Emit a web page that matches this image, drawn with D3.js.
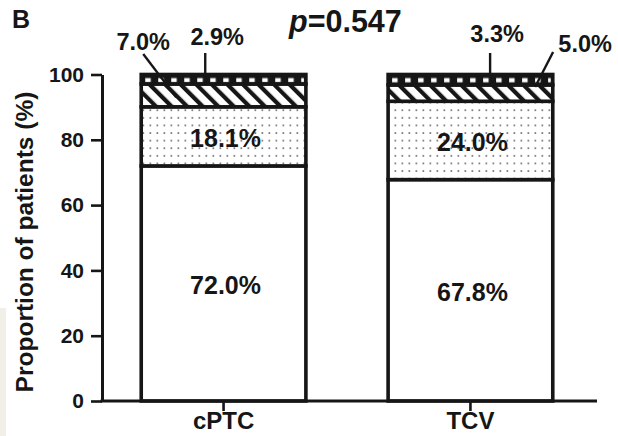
<!DOCTYPE html>
<html><head><meta charset="utf-8">
<script src="https://cdn.jsdelivr.net/npm/d3@7"></script>
<style>
html,body{margin:0;padding:0;background:#fff;}
svg{display:block;font-family:"Liberation Sans",Arial,Helvetica,sans-serif;font-weight:bold;}
</style></head>
<body>
<svg id="chart" width="618" height="436"></svg>
<script>
// ---- data ----
const categories = ["cPTC", "TCV"];
const segmentNames = ["none", "dotted", "hatched", "checkered"];
const cPTCValues = [72.0, 18.1, 7.0, 2.9];
const TCVValues = [67.8, 24.0, 5.0, 3.3];
const segmentLabels = {cPTC: ["72.0%", "18.1%", "7.0%", "2.9%"], TCV: ["67.8%", "24.0%", "5.0%", "3.3%"]};
const yTicks = [0, 20, 40, 60, 80, 100];
const pValueText = "0.547";
const yTitle = "Proportion of patients (%)";
const panelLetter = "B";

const seriesValues = {cPTC: cPTCValues, TCV: TCVValues};

const svg = d3.select("#chart");
const ink = "#161616";

const x = d3.scaleBand().domain(categories).range([100, 594]).paddingInner(0.333).paddingOuter(0.167);
const y = d3.scaleLinear().domain([0, 100]).range([401, 74.5]);

// faint scan artifact on the left
svg.append("rect").attr("x", 0).attr("y", 308).attr("width", 6).attr("height", 128).attr("fill", "#f2efe9");

// ---- patterns ----
const defs = svg.append("defs");
const dots = defs.append("pattern").attr("id", "dots").attr("patternUnits", "userSpaceOnUse")
  .attr("width", 7).attr("height", 7.6).attr("x", 0).attr("y", 0);
dots.append("rect").attr("width", 7).attr("height", 7.6).attr("fill", "#fff");
dots.append("rect").attr("x", 2.5).attr("y", 3).attr("width", 1.7).attr("height", 1.7).attr("fill", "#777");

const hatch = defs.append("pattern").attr("id", "hatch").attr("patternUnits", "userSpaceOnUse")
  .attr("width", 11).attr("height", 11).attr("patternTransform", "rotate(-45)");
hatch.append("rect").attr("width", 11).attr("height", 11).attr("fill", "#fff");
hatch.append("rect").attr("x", 0).attr("y", 0).attr("width", 4.2).attr("height", 11).attr("fill", ink);

const fills = {none: "#fff", dotted: "url(#dots)", hatched: "url(#hatch)"};

// ---- bars ----
categories.forEach(cat => {
  const vals = seriesValues[cat];
  let cum = 0;
  const segs = vals.map((v, i) => { const s = {cat, name: segmentNames[i], y0: cum, y1: cum + v, v, label: segmentLabels[cat][i]}; cum += v; return s; });
  const g = svg.append("g");
  const bx = x(cat), bw = x.bandwidth();
  segs.forEach(s => {
    const top = y(Math.min(s.y1, 100)), bot = y(s.y0);
    if (s.name === "checkered") {
      g.append("rect").attr("x", bx).attr("y", top).attr("width", bw).attr("height", bot - top).attr("fill", ink);
      const pid = "chk" + cat;
      const p = defs.append("pattern").attr("id", pid).attr("patternUnits", "userSpaceOnUse")
        .attr("width", 13).attr("height", 200).attr("x", bx + 4).attr("y", top);
      p.append("rect").attr("x", 0).attr("y", 3.6).attr("width", 5.5).attr("height", 4.2).attr("fill", "#fff");
      g.append("rect").attr("x", bx + 2).attr("y", top).attr("width", bw - 4).attr("height", bot - top).attr("fill", "url(#" + pid + ")");
      g.append("rect").attr("x", bx).attr("y", top).attr("width", bw).attr("height", bot - top)
        .attr("fill", "none").attr("stroke", ink).attr("stroke-width", 3.6);
    } else {
      g.append("rect").attr("x", bx).attr("y", top).attr("width", bw).attr("height", bot - top)
        .attr("fill", fills[s.name]).attr("stroke", ink).attr("stroke-width", 3.6);
    }
  });
  // inner labels
  segs.slice(0, 2).forEach(s => {
    g.append("text").attr("x", bx + bw / 2 + 2).attr("y", (y(s.y0) + y(s.y1)) / 2 + 11)
      .attr("text-anchor", "middle").attr("font-size", 25).attr("fill", ink).text(s.label);
  });
});

// ---- annotations (outer labels with leader lines) ----
function lead(x1, y1, x2, y2) {
  svg.append("line").attr("x1", x1).attr("y1", y1).attr("x2", x2).attr("y2", y2)
    .attr("stroke", ink).attr("stroke-width", 2.4);
}
function lab(tx, ty, t) {
  svg.append("text").attr("x", tx).attr("y", ty).attr("text-anchor", "middle")
    .attr("font-size", 23.5).attr("fill", ink).text(t);
}
{
  const bx = x("cPTC"), bw = x.bandwidth();
  lab(bx + 2, 50, segmentLabels.cPTC[2]);
  lead(bx + 2, 54, bx + 35, y(72.0 + 18.1 + 7.0 / 2) + 2);
  lab(bx + 76, 45, segmentLabels.cPTC[3]);
  lead(bx + 64, 53, bx + 64, y(100));
}
{
  const bx = x("TCV"), bw = x.bandwidth();
  lab(bx + 109, 42, segmentLabels.TCV[3]);
  lead(bx + 102, 53, bx + 102, y(100));
  lab(bx + 197, 52, segmentLabels.TCV[2]);
  lead(bx + 165, 52, bx + 147, y(67.8 + 24.0 + 5.0) + 2);
}

// p value
const pt = svg.append("text").attr("x", 289).attr("y", 32).attr("font-size", 30.5).attr("fill", ink);
pt.append("tspan").attr("font-style", "italic").text("p");
pt.append("tspan").text("=" + pValueText);

// panel letter
svg.append("text").attr("x", 12).attr("y", 28).attr("font-size", 25).attr("fill", ink).text(panelLetter);

// ---- axes ----
const yAxis = svg.append("g").attr("transform", "translate(102,0)")
  .call(d3.axisLeft(y).tickValues(yTicks).tickSize(11).tickPadding(7).tickSizeOuter(0));
yAxis.select(".domain").attr("stroke", ink).attr("stroke-width", 3);
yAxis.selectAll(".tick line").attr("stroke", ink).attr("stroke-width", 2.6);
yAxis.selectAll(".tick text").attr("font-size", 21).attr("fill", ink)
  .attr("font-family", "Liberation Sans, Arial, sans-serif").attr("font-weight", "bold");

const xAxis = svg.append("g").attr("transform", "translate(0,401)")
  .call(d3.axisBottom(x).tickSize(10).tickPadding(1).tickSizeOuter(0));
xAxis.select(".domain").remove();
xAxis.append("line").attr("x1", 100.5).attr("x2", 597).attr("y1", 0).attr("y2", 0).attr("stroke", ink).attr("stroke-width", 3);
xAxis.selectAll(".tick line").attr("stroke", ink).attr("stroke-width", 2.6);
xAxis.selectAll(".tick text").attr("font-size", 24).attr("fill", ink)
  .attr("font-family", "Liberation Sans, Arial, sans-serif").attr("font-weight", "bold");

// y axis title
svg.append("text").attr("transform", "translate(33,242) rotate(-90)").attr("text-anchor", "middle")
  .attr("font-size", 24.5).attr("fill", ink).text(yTitle);
</script>
</body></html>
